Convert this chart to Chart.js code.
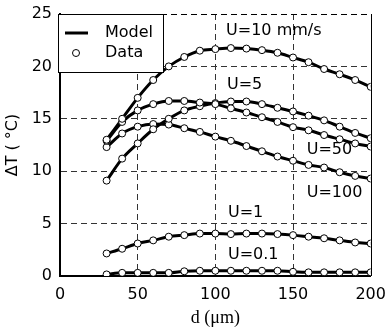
<!DOCTYPE html>
<html><head><meta charset="utf-8">
<script src="https://cdn.jsdelivr.net/npm/chart.js@4.4.1/dist/chart.umd.min.js"></script>
<style>html,body{margin:0;padding:0;background:#fff}#wrap{width:390px;height:331px;position:relative}</style>
</head><body><div id="wrap"><canvas id="c" width="390" height="331"></canvas></div>
<script>
// ---- data ----
const dValues = [30,40,50,60,70,80,90,100,110,120,130,140,150,160,170,180,190,200];
const u10  = [13.0,15.0,17.0,18.7,20.0,20.9,21.5,21.65,21.75,21.7,21.55,21.3,20.85,20.4,19.75,19.25,18.7,18.05];
const u5   = [12.9,14.7,15.8,16.4,16.7,16.7,16.55,16.4,16.0,15.6,15.15,14.7,14.2,13.9,13.45,13.05,12.65,12.35];
const u50  = [9.1,11.2,12.65,14.0,15.0,15.8,16.2,16.5,16.65,16.65,16.4,16.05,15.7,15.3,14.85,14.25,13.65,13.15];
const u100 = [12.3,13.6,14.25,14.5,14.45,14.1,13.75,13.3,12.9,12.4,11.9,11.4,11.0,10.6,10.35,9.9,9.55,9.3];
const u1   = [2.15,2.6,3.1,3.4,3.75,3.9,4.05,4.05,4.0,4.05,4.05,4.0,3.9,3.75,3.6,3.4,3.2,3.1];
const u01  = [0.15,0.3,0.3,0.3,0.3,0.45,0.5,0.5,0.5,0.5,0.5,0.5,0.4,0.35,0.35,0.35,0.35,0.35];
const seriesNames = ['U=10 mm/s','U=5','U=50','U=100','U=1','U=0.1'];
const xTicks = [0,50,100,150,200];
const yTicks = [0,5,10,15,20,25];
const legendNames = ['Model','Data'];
const xTitle = 'd (\u03bcm)';
const yTitle = '\u0394T ( \u00b0C)';

const allSeries = [u10,u5,u50,u100,u1,u01];
const toPts = arr => arr.map((v,i)=>({x:dValues[i], y:v}));

const datasets = [];
allSeries.forEach((s,i)=>{
  datasets.push({label: seriesNames[i]+' model', data: toPts(s), borderColor:'#000', borderWidth:3,
    pointRadius:0, cubicInterpolationMode:'monotone', fill:false, order:2});
});
allSeries.forEach((s,i)=>{
  datasets.push({label: seriesNames[i]+' data', data: toPts(s), showLine:false, pointRadius:3.5,
    pointBackgroundColor:'#fff', pointBorderColor:'#000', pointBorderWidth:1, order:1});
});

const FONT = 'DejaVu Sans';

// annotation positions (data coords) for curve labels
const labelPos = [[106.9,23.4],[107.5,18.2],[158.8,12.0],[158.8,7.9],[108.1,6.0],[108.1,2.0]];

const decor = {
  id:'decor',
  afterDraw(chart){
    const {ctx, chartArea:a, scales:{x,y}} = chart;
    ctx.save();
    ctx.strokeStyle='#000'; ctx.lineWidth=1; ctx.setLineDash([]);
    ctx.beginPath(); ctx.moveTo(Math.round(a.right)+0.5, a.top); ctx.lineTo(Math.round(a.right)+0.5, a.bottom); ctx.stroke();
    ctx.fillStyle='#000'; ctx.font = '16px "'+FONT+'"'; ctx.textBaseline='middle'; ctx.textAlign='left';
    seriesNames.forEach((n,i)=>{
      ctx.fillText(n, x.getPixelForValue(labelPos[i][0]), y.getPixelForValue(labelPos[i][1]));
    });
    const L = a.left-2, T = a.top, W = 105, H = 58;
    ctx.fillStyle='#fff'; ctx.fillRect(L,T,W,H);
    ctx.strokeStyle='#000'; ctx.lineWidth=1; ctx.strokeRect(L+0.5,T+0.5,W,H);
    ctx.lineWidth=3; ctx.beginPath(); ctx.moveTo(L+7,T+19); ctx.lineTo(L+30,T+19); ctx.stroke();
    ctx.lineWidth=1; ctx.fillStyle='#fff'; ctx.beginPath(); ctx.arc(L+18,T+39,3.5,0,Math.PI*2); ctx.fill(); ctx.stroke();
    ctx.fillStyle='#000';
    ctx.fillText(legendNames[0], L+47, T+19);
    ctx.fillText(legendNames[1], L+47, T+39);
    ctx.restore();
  }
};

new Chart(document.getElementById('c'), {
  type:'line',
  data:{datasets},
  options:{
    responsive:false, animation:false, devicePixelRatio:1,
    layout:{padding:{left:0,right:19.3,top:14,bottom:0}},
    plugins:{legend:{display:false}, tooltip:{enabled:false}},
    scales:{
      x:{type:'linear', min:0, max:200,
        afterBuildTicks: s => { s.ticks = xTicks.map(v=>({value:v})); },
        afterFit: s => { s.height = 55; s.paddingLeft = 0; s.paddingRight = 0; },
        grid:{drawTicks:false, lineWidth:1, color: c => (c.tick && c.tick.value>0 && c.tick.value<200) ? '#333' : 'rgba(0,0,0,0)'},
        border:{display:true, color:'#000', width:2, dash:[6,4]},
        ticks:{padding:9, color:'#000', font:{family:FONT, size:16}},
        title:{display:true, text:xTitle, color:'#000', font:{family:'Liberation Serif', size:18}, padding:{top:0,bottom:2}}
      },
      y:{type:'linear', min:0, max:25,
        afterBuildTicks: s => { s.ticks = yTicks.map(v=>({value:v})); },
        afterFit: s => { s.width = 60; s.paddingTop = 0; s.paddingBottom = 0; },
        grid:{drawTicks:false, lineWidth:1, color: c => (c.tick && c.tick.value>0) ? (c.tick.value===25 ? '#000' : '#333') : 'rgba(0,0,0,0)'},
        border:{display:true, color:'#000', width:2, dash:[6,4]},
        ticks:{padding:8, color:'#000', font:{family:FONT, size:16}},
        title:{display:true, text:yTitle, color:'#000', font:{family:FONT, size:16}, padding:{top:3,bottom:0}}
      }
    }
  },
  plugins:[decor]
});
</script></body></html>
